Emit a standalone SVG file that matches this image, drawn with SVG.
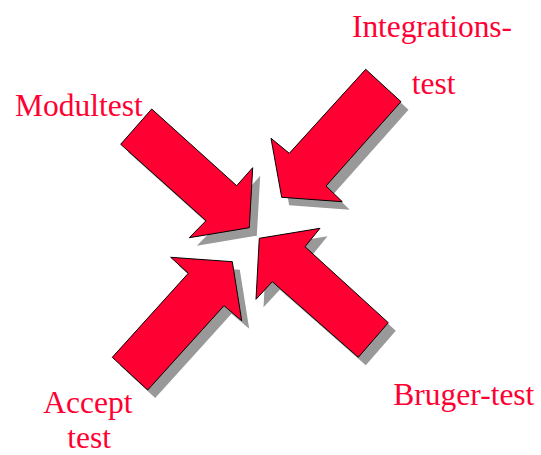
<svg xmlns="http://www.w3.org/2000/svg" width="541" height="455" viewBox="0 0 541 455">
<defs>
<style>
.arrow{fill:#FF0033;stroke:#000;stroke-width:1;stroke-linejoin:miter}
.shadow{fill:#999999;stroke:none}
.lbl{font-family:"Liberation Serif","Times New Roman",serif;font-size:31.5px;fill:#FF0033}
</style>
<polygon id="a1" points="151.7,109 236.7,185.7 252.7,167.7 249.3,227.7 189.3,237.7 206,220.7 120.7,144.3"/>
<polygon id="a2" points="365.7,69.3 401,101.7 326,186 342.3,201.7 281.7,197.3 271,138.3 289.3,153.3"/>
<polygon id="a3" points="112.3,357.3 188.3,273.3 170.7,257.3 232.3,261.7 241.7,320.7 224,305.7 147.7,390"/>
<polygon id="a4" points="259.3,238.3 320,228.3 305,246.7 388.3,322.7 358.3,357.3 272.3,281.7 256,299.3"/>
</defs>
<g id="shadows" transform="translate(7.5,8)">
<use href="#a1" class="shadow"/>
<use href="#a2" class="shadow"/>
<use href="#a3" class="shadow"/>
<use href="#a4" class="shadow"/>
</g>
<g id="connectors">
<use id="arrow-modultest" href="#a1" class="arrow"/>
<use id="arrow-integrationstest" href="#a2" class="arrow"/>
<use id="arrow-accepttest" href="#a3" class="arrow"/>
<use id="arrow-brugertest" href="#a4" class="arrow"/>
</g>
<g id="modultest"><text class="lbl" x="15" y="116">Modultest</text></g>
<g id="integrationstest"><text class="lbl" x="352" y="36.7" textLength="160" lengthAdjust="spacing">Integrations-</text><text class="lbl" x="411.7" y="94.3">test</text></g>
<g id="accepttest"><text class="lbl" x="43.3" y="413.3">Accept</text><text class="lbl" x="67.3" y="448">test</text></g>
<g id="brugertest"><text class="lbl" x="393.3" y="405">Bruger-test</text></g>
</svg>
